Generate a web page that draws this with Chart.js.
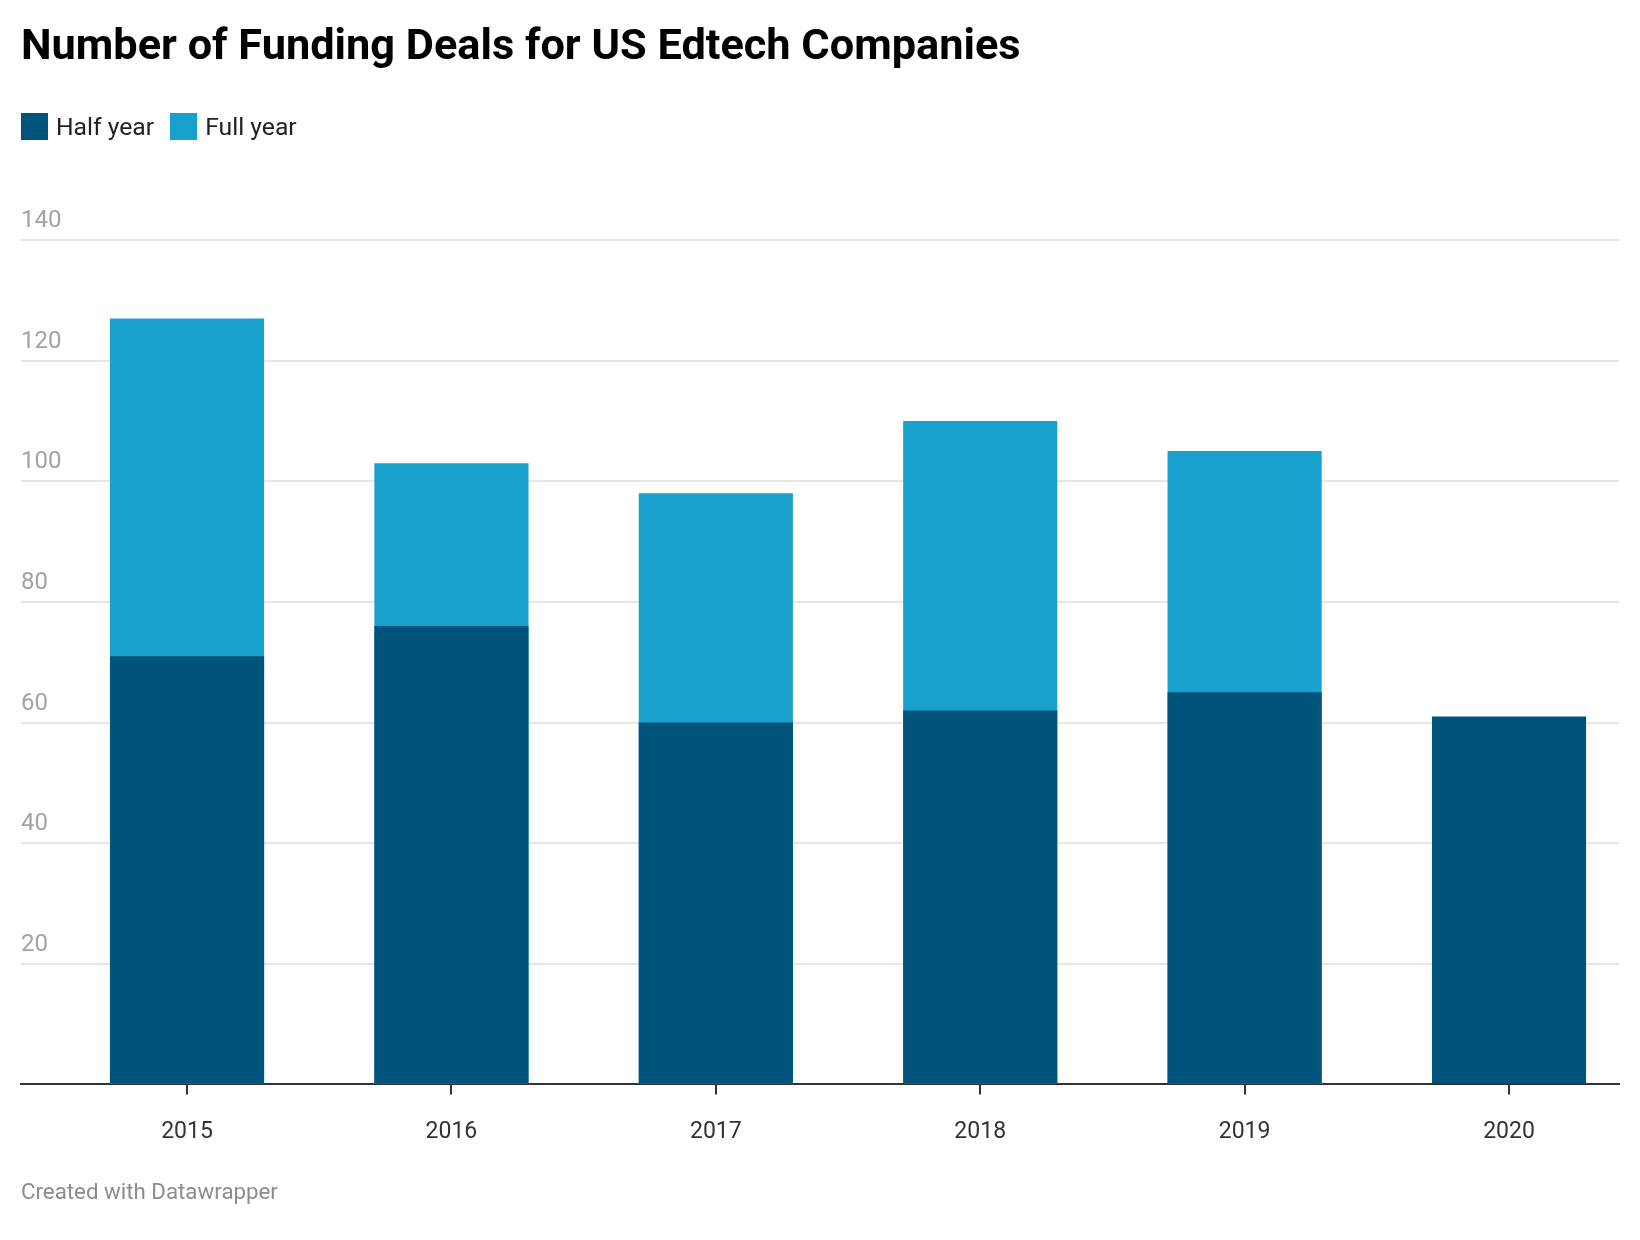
<!DOCTYPE html>
<html>
<head>
<meta charset="utf-8">
<script src="https://cdn.jsdelivr.net/npm/chart.js@4.4.1/dist/chart.umd.min.js"></script>
<style>
	html, body { margin: 0; padding: 0; background: #ffffff; }
	#wrap { position: relative; width: 1640px; height: 1240px; font-family: Roboto, 'Noto Sans', sans-serif; }
	#chart { position: absolute; left: 0; top: 0; }
	.title { position: absolute; left: 21px; top: 23px; font-size: 43.3px; font-weight: 700; line-height: 1; color: #000; white-space: nowrap; }
	.legend { position: absolute; left: 21px; top: 113px; display: flex; align-items: center; font-size: 24.7px; line-height: 27px; color: #222; }
	.legend span.box { display: inline-block; width: 27px; height: 27px; margin-right: 8px; }
	.legend span.item { display: flex; align-items: center; margin-right: 16px; }
	.footer { position: absolute; left: 21px; top: 1180px; font-size: 22.3px; line-height: 1; color: #8c8c8c; }
</style>
</head>
<body>
<div id="wrap">
	<canvas id="chart" width="1640" height="1240"></canvas>
	<div class="title">Number of Funding Deals for US Edtech Companies</div>
	<div class="legend" id="legend"></div>
	<div class="footer">Created with Datawrapper</div>
</div>
<script>
// values
const years = [2015, 2016, 2017, 2018, 2019, 2020];
const halfYear = [71, 76, 60, 62, 65, 61];
const fullYear = [127, 103, 98, 110, 105, null];
const yTicks = [0, 20, 40, 60, 80, 100, 120, 140];

const seriesNames = ['Half year', 'Full year'];
const seriesColors = ['#00537a', '#19a1cd'];

// html legend
const legendEl = document.getElementById('legend');
seriesNames.forEach((name, i) => {
	const item = document.createElement('span');
	item.className = 'item';
	item.innerHTML = '<span class="box" style="background:' + seriesColors[i] + '"></span>' + name;
	legendEl.appendChild(item);
});

const ctx = document.getElementById('chart');

new Chart(ctx, {
	type: 'bar',
	data: {
		datasets: [
			{
				label: seriesNames[0],
				data: years.map((y, i) => ({ x: y, y: halfYear[i] })),
				backgroundColor: seriesColors[0],
				borderWidth: 0,
				grouped: false,
				categoryPercentage: 1,
				barPercentage: 0.583
			},
			{
				label: seriesNames[1],
				data: years.map((y, i) => ({ x: y, y: fullYear[i] })),
				backgroundColor: seriesColors[1],
				borderWidth: 0,
				grouped: false,
				categoryPercentage: 1,
				barPercentage: 0.583
			}
		]
	},
	options: {
		responsive: false,
		animation: false,
		layout: {
			padding: { top: 240, left: 21, right: 21, bottom: 70 }
		},
		scales: {
			x: {
				type: 'linear',
				offset: false,
				min: 2014.372,
				max: 2020.416,
				afterBuildTicks: (scale) => {
					scale.ticks = years.map(v => ({ value: v }));
				},
				ticks: {
					color: '#333333',
					padding: 24,
					font: { family: 'Roboto', size: 23 },
					callback: (value) => String(value)
				},
				grid: {
					display: true,
					offset: false,
					drawOnChartArea: false,
					drawTicks: true,
					tickLength: 10,
					color: '#333333',
					lineWidth: 2
				},
				border: {
					display: true,
					color: '#333333',
					width: 2
				}
			},
			y: {
				min: 0,
				max: 140,
				afterBuildTicks: (scale) => {
					scale.ticks = yTicks.map(v => ({ value: v }));
				},
				ticks: {
					mirror: true,
					padding: 0,
					labelOffset: -19,
					color: '#a3a3a3',
					font: { family: 'Roboto', size: 24 },
					callback: (value) => value === 0 ? '' : String(value)
				},
				grid: {
					color: '#e6e6e6',
					lineWidth: 2,
					drawTicks: false
				},
				border: {
					display: false
				}
			}
		},
		plugins: {
			legend: { display: false },
			title: { display: false },
			tooltip: { enabled: false }
		}
	}
});
</script>
</body>
</html>
